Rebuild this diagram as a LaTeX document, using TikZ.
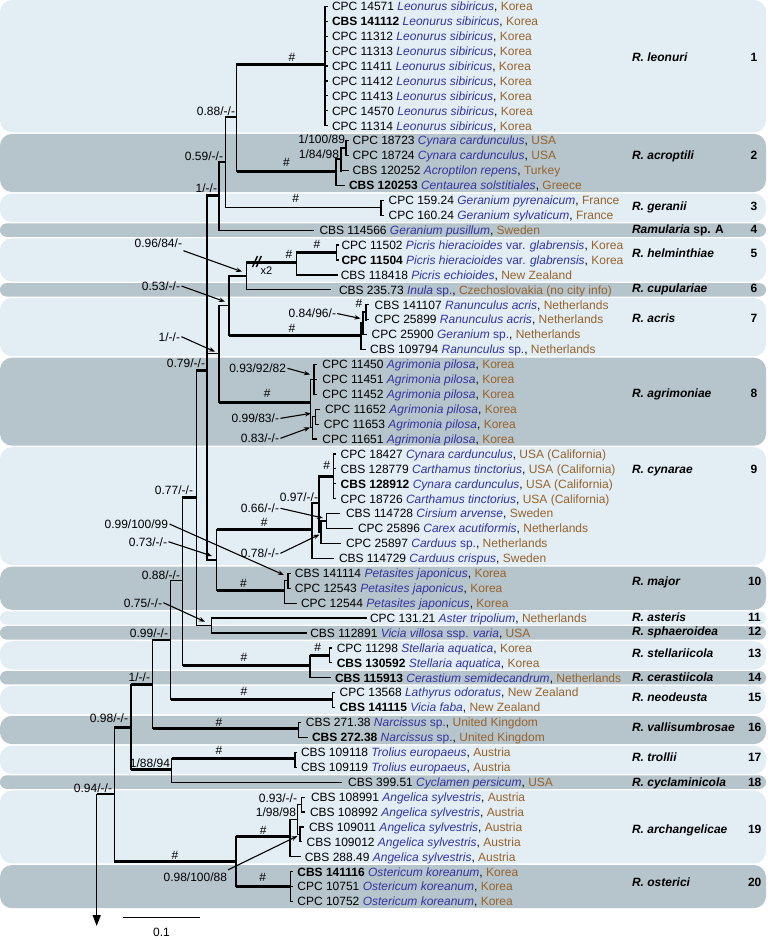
\documentclass[tikz,border=0pt]{standalone}
\usepackage{fontspec}
\setmainfont{Liberation Sans}
\usetikzlibrary{arrows.meta}
\definecolor{spblue}{RGB}{52,52,160}
\definecolor{cobrown}{RGB}{150,100,45}
\definecolor{bandL}{RGB}{226,237,244}
\definecolor{bandD}{RGB}{182,196,203}
\newcommand\spx[1]{\textcolor{spblue}{#1}}
\newcommand\ctx[1]{\textcolor{cobrown}{#1}}
\newcommand\mkleaf[5]{\coordinate (t#1) at (#3,#2); \node[leaf] (l#1) at (#4,#2) {#5};}
\newcommand\hbr[3][thinbr]{\draw[#1] (#2 |- #3) -- (#3);}
\newcommand\vbr[4][vbr]{\draw[#1] (#2 |- #3) -- (#2 |- #4);}
\begin{document}
\begin{tikzpicture}[x=1pt,y=-1pt,
  every node/.style={font=\fontsize{12pt}{14pt}\selectfont, inner sep=0pt, outer sep=0pt},
  thinbr/.style={line width=1.2pt},
  thickbr/.style={line width=3pt},
  vbr/.style={line width=1.2pt, line cap=rect},
  vthick/.style={line width=2.4pt, line cap=rect},
  leaf/.style={anchor=base west, yshift=-4.3pt},
  supp/.style={anchor=base east, yshift=-4.3pt},
  hashl/.style={anchor=base, yshift=-4.3pt},
  clade/.style={anchor=base west, yshift=-4.3pt, font=\fontsize{12pt}{14pt}\selectfont\bfseries\itshape},
  cnum/.style={anchor=base west, yshift=-4.3pt, font=\fontsize{12pt}{14pt}\selectfont\bfseries},
  arr/.style={line width=1.1pt, -{Stealth[length=6pt,width=4.5pt]}},
]
\useasboundingbox (0,0) rectangle (773,940);
% ---------- bands
\fill[bandL,rounded corners=12pt] (0,0) rectangle (766,132.4);
\fill[bandD,rounded corners=12pt] (0,133.9) rectangle (766,192.0);
\fill[bandL,rounded corners=12pt] (0,193.6) rectangle (766,221.9);
\fill[bandD,rounded corners=6.5pt] (0,223.4) rectangle (766,236.8);
\fill[bandL,rounded corners=12pt] (0,238.3) rectangle (766,281.6);
\fill[bandD,rounded corners=6.5pt] (0,283.1) rectangle (766,296.5);
\fill[bandL,rounded corners=12pt] (0,298.0) rectangle (766,356.2);
\fill[bandD,rounded corners=12pt] (0,357.7) rectangle (766,445.7);
\fill[bandL,rounded corners=12pt] (0,447.2) rectangle (766,565.0);
\fill[bandD,rounded corners=12pt] (0,566.6) rectangle (766,609.8);
\fill[bandL,rounded corners=6.5pt] (0,611.3) rectangle (766,624.7);
\fill[bandD,rounded corners=6.5pt] (0,626.2) rectangle (766,639.6);
\fill[bandL,rounded corners=12pt] (0,641.2) rectangle (766,669.5);
\fill[bandD,rounded corners=6.5pt] (0,671.0) rectangle (766,684.4);
\fill[bandL,rounded corners=12pt] (0,685.9) rectangle (766,714.2);
\fill[bandD,rounded corners=12pt] (0,715.8) rectangle (766,744.1);
\fill[bandL,rounded corners=12pt] (0,745.6) rectangle (766,773.9);
\fill[bandD,rounded corners=6.5pt] (0,775.4) rectangle (766,788.8);
\fill[bandL,rounded corners=12pt] (0,790.4) rectangle (766,863.4);
\fill[bandD,rounded corners=12pt] (0,865.0) rectangle (766,908.2);
% ---------- leaves
\mkleaf{0}{6.3}{327.5}{332}{CPC 14571 \spx{\textit{Leonurus sibiricus}}, \ctx{Korea}}
\mkleaf{1}{21.2}{327.5}{332}{\textbf{CBS 141112} \spx{\textit{Leonurus sibiricus}}, \ctx{Korea}}
\mkleaf{2}{36.1}{327.5}{332}{CPC 11312 \spx{\textit{Leonurus sibiricus}}, \ctx{Korea}}
\mkleaf{3}{51.1}{327.5}{332}{CPC 11313 \spx{\textit{Leonurus sibiricus}}, \ctx{Korea}}
\mkleaf{4}{66.0}{327.5}{332}{CPC 11411 \spx{\textit{Leonurus sibiricus}}, \ctx{Korea}}
\mkleaf{5}{80.9}{327.5}{332}{CPC 11412 \spx{\textit{Leonurus sibiricus}}, \ctx{Korea}}
\mkleaf{6}{95.8}{327.5}{332}{CPC 11413 \spx{\textit{Leonurus sibiricus}}, \ctx{Korea}}
\mkleaf{7}{110.7}{327.5}{332}{CPC 14570 \spx{\textit{Leonurus sibiricus}}, \ctx{Korea}}
\mkleaf{8}{125.7}{327.5}{332}{CPC 11314 \spx{\textit{Leonurus sibiricus}}, \ctx{Korea}}
\mkleaf{9}{140.6}{348.5}{352.6}{CPC 18723 \spx{\textit{Cynara cardunculus}}, \ctx{USA}}
\mkleaf{10}{155.5}{348.5}{352.6}{CPC 18724 \spx{\textit{Cynara cardunculus}}, \ctx{USA}}
\mkleaf{11}{170.4}{348.5}{352.6}{CBS 120252 \spx{\textit{Acroptilon repens}}, \ctx{Turkey}}
\mkleaf{12}{185.3}{344.5}{349}{\textbf{CBS 120253} \spx{\textit{Centaurea solstitiales}}, \ctx{Greece}}
\mkleaf{13}{200.3}{383.5}{388.6}{CPC 159.24 \spx{\textit{Geranium pyrenaicum}}, \ctx{France}}
\mkleaf{14}{215.2}{383.5}{388.6}{CPC 160.24 \spx{\textit{Geranium sylvaticum}}, \ctx{France}}
\mkleaf{15}{230.1}{314}{319.5}{CBS 114566 \spx{\textit{Geranium pusillum}}, \ctx{Sweden}}
\mkleaf{16}{245.0}{338.8}{341.5}{CPC 11502 \spx{\textit{Picris hieracioides} var. \textit{glabrensis}}, \ctx{Korea}}
\mkleaf{17}{259.9}{338.8}{341.5}{\textbf{CPC 11504} \spx{\textit{Picris hieracioides} var. \textit{glabrensis}}, \ctx{Korea}}
\mkleaf{18}{274.9}{337.5}{340.8}{CBS 118418 \spx{\textit{Picris echioides}}, \ctx{New Zealand}}
\mkleaf{19}{289.8}{331}{339}{CBS 235.73 \spx{\textit{Inula} sp.}, \ctx{Czechoslovakia (no city info)}}
\mkleaf{20}{304.7}{369}{374.6}{CBS 141107 \spx{\textit{Ranunculus acris}}, \ctx{Netherlands}}
\mkleaf{21}{319.6}{369}{374.6}{CPC 25899 \spx{\textit{Ranunculus acris}}, \ctx{Netherlands}}
\mkleaf{22}{334.5}{367}{371.7}{CPC 25900 \spx{\textit{Geranium} sp.}, \ctx{Netherlands}}
\mkleaf{23}{349.5}{365.5}{370.2}{CBS 109794 \spx{\textit{Ranunculus} sp.}, \ctx{Netherlands}}
\mkleaf{24}{364.4}{317}{322.4}{CPC 11450 \spx{\textit{Agrimonia pilosa}}, \ctx{Korea}}
\mkleaf{25}{379.3}{317}{322.4}{CPC 11451 \spx{\textit{Agrimonia pilosa}}, \ctx{Korea}}
\mkleaf{26}{394.2}{317}{322.4}{CPC 11452 \spx{\textit{Agrimonia pilosa}}, \ctx{Korea}}
\mkleaf{27}{409.1}{319.5}{325}{CPC 11652 \spx{\textit{Agrimonia pilosa}}, \ctx{Korea}}
\mkleaf{28}{424.1}{318.5}{323.9}{CPC 11653 \spx{\textit{Agrimonia pilosa}}, \ctx{Korea}}
\mkleaf{29}{439.0}{317}{322.4}{CPC 11651 \spx{\textit{Agrimonia pilosa}}, \ctx{Korea}}
\mkleaf{30}{453.9}{335.5}{340.7}{CPC 18427 \spx{\textit{Cynara cardunculus}}, \ctx{USA (California)}}
\mkleaf{31}{468.8}{335.5}{340.7}{CBS 128779 \spx{\textit{Carthamus tinctorius}}, \ctx{USA (California)}}
\mkleaf{32}{483.7}{335.5}{340.7}{\textbf{CBS 128912} \spx{\textit{Cynara cardunculus}}, \ctx{USA (California)}}
\mkleaf{33}{498.7}{335.5}{340.7}{CPC 18726 \spx{\textit{Carthamus tinctorius}}, \ctx{USA (California)}}
\mkleaf{34}{513.6}{340}{346}{CBS 114728 \spx{\textit{Cirsium arvense}}, \ctx{Sweden}}
\mkleaf{35}{528.5}{353}{358}{CPC 25896 \spx{\textit{Carex acutiformis}}, \ctx{Netherlands}}
\mkleaf{36}{543.4}{341}{346}{CPC 25897 \spx{\textit{Carduus} sp.}, \ctx{Netherlands}}
\mkleaf{37}{558.3}{334}{339}{CBS 114729 \spx{\textit{Carduus crispus}}, \ctx{Sweden}}
\mkleaf{38}{573.3}{290.5}{294.9}{CBS 141114 \spx{\textit{Petasites japonicus}}, \ctx{Korea}}
\mkleaf{39}{588.2}{290.5}{294.9}{CPC 12543 \spx{\textit{Petasites japonicus}}, \ctx{Korea}}
\mkleaf{40}{603.1}{297}{301}{CPC 12544 \spx{\textit{Petasites japonicus}}, \ctx{Korea}}
\mkleaf{41}{618.0}{367}{370}{CPC 131.21 \spx{\textit{Aster tripolium}}, \ctx{Netherlands}}
\mkleaf{42}{632.9}{306.6}{310.3}{CBS 112891 \spx{\textit{Vicia villosa} ssp. \textit{varia}}, \ctx{USA}}
\mkleaf{43}{647.9}{331.5}{336.8}{CPC 11298 \spx{\textit{Stellaria aquatica}}, \ctx{Korea}}
\mkleaf{44}{662.8}{331.5}{336.8}{\textbf{CBS 130592} \spx{\textit{Stellaria aquatica}}, \ctx{Korea}}
\mkleaf{45}{677.7}{330.5}{335}{\textbf{CBS 115913} \spx{\textit{Cerastium semidecandrum}}, \ctx{Netherlands}}
\mkleaf{46}{692.6}{334.5}{339.7}{CPC 13568 \spx{\textit{Lathyrus odoratus}}, \ctx{New Zealand}}
\mkleaf{47}{707.5}{334.5}{339.7}{\textbf{CBS 141115} \spx{\textit{Vicia faba}}, \ctx{New Zealand}}
\mkleaf{48}{722.5}{300.5}{305.9}{CBS 271.38 \spx{\textit{Narcissus} sp.}, \ctx{United Kingdom}}
\mkleaf{49}{737.4}{308}{312}{\textbf{CBS 272.38} \spx{\textit{Narcissus} sp.}, \ctx{United Kingdom}}
\mkleaf{50}{752.3}{297}{301}{CBS 109118 \spx{\textit{Trolius europaeus}}, \ctx{Austria}}
\mkleaf{51}{767.2}{297}{301}{CBS 109119 \spx{\textit{Trolius europaeus}}, \ctx{Austria}}
\mkleaf{52}{782.1}{341.5}{348.2}{CBS 399.51 \spx{\textit{Cyclamen persicum}}, \ctx{USA}}
\mkleaf{53}{797.1}{305}{311}{CBS 108991 \spx{\textit{Angelica sylvestris}}, \ctx{Austria}}
\mkleaf{54}{812.0}{305}{310}{CBS 108992 \spx{\textit{Angelica sylvestris}}, \ctx{Austria}}
\mkleaf{55}{826.9}{303.5}{309}{CBS 109011 \spx{\textit{Angelica sylvestris}}, \ctx{Austria}}
\mkleaf{56}{841.8}{302}{306.6}{CBS 109012 \spx{\textit{Angelica sylvestris}}, \ctx{Austria}}
\mkleaf{57}{856.7}{301}{304.8}{CBS 288.49 \spx{\textit{Angelica sylvestris}}, \ctx{Austria}}
\mkleaf{58}{871.7}{293}{297.4}{\textbf{CBS 141116} \spx{\textit{Ostericum koreanum}}, \ctx{Korea}}
\mkleaf{59}{886.6}{293}{297.4}{CPC 10751 \spx{\textit{Ostericum koreanum}}, \ctx{Korea}}
\mkleaf{60}{901.5}{293}{297.4}{CPC 10752 \spx{\textit{Ostericum koreanum}}, \ctx{Korea}}
% ---------- internal nodes
\coordinate (nLeo) at (325,64);
\coordinate (nA1) at (346,148);
\coordinate (nA2) at (341,159);
\coordinate (nAcr) at (336,171);
\coordinate (n088a) at (236.7,117);
\coordinate (nGer) at (381,207.7);
\coordinate (n059) at (225.7,162);
\coordinate (n1a) at (219,195);
\coordinate (nHel2) at (336.8,252.5);
\coordinate (nHel) at (296.3,262);
\coordinate (n096) at (246.7,276);
\coordinate (nAcr4) at (366,312);
\coordinate (n084) at (363,323);
\coordinate (nAcris) at (361,335);
\coordinate (n053) at (229,305.5);
\coordinate (nAg1) at (314,379.3);
\coordinate (nAg99) at (315.5,416.6);
\coordinate (nAg83) at (312.5,427.8);
\coordinate (nAgr) at (310.5,402);
\coordinate (n1b) at (219,353.5);
\coordinate (nCy4) at (333.3,476);
\coordinate (nR066) at (326.8,521);
\coordinate (nQ078) at (321,532.2);
\coordinate (nP097) at (319,503);
\coordinate (nCyn) at (312,529.5);
\coordinate (nMaj2) at (288,580.8);
\coordinate (nMaj) at (284.6,590);
\coordinate (n073) at (216.7,560);
\coordinate (n079) at (207,370);
\coordinate (n075) at (211.7,625.5);
\coordinate (n077) at (196.7,497);
\coordinate (nStel2) at (329.4,655.4);
\coordinate (nStel) at (310,665.5);
\coordinate (n088b) at (182.7,580.5);
\coordinate (nNeo) at (332.4,699);
\coordinate (n099) at (170.7,640);
\coordinate (nVal) at (298.5,728);
\coordinate (n1c) at (152.7,684.5);
\coordinate (nTro) at (294.9,758.5);
\coordinate (n188) at (171.7,769);
\coordinate (n098a) at (131,727.5);
\coordinate (nAr093) at (301.5,804.5);
\coordinate (nAr1112) at (300,834.3);
\coordinate (nAr198) at (297.4,819.4);
\coordinate (nArch) at (290,836.5);
\coordinate (nOst) at (290.8,886);
\coordinate (n098b) at (236,861);
\coordinate (n094) at (114.3,794);
\coordinate (root) at (96.7,794);
\coordinate (rootTip) at (96.7,926);
% ---------- branches
\vbr{nLeo}{t0}{t8} \foreach \i in {0,...,8}{\hbr{nLeo}{t\i}}
\vbr{nA1}{t9}{t10} \hbr{nA1}{t9} \hbr{nA1}{t10}
\vbr[vthick]{nA2}{nA1}{t11} \hbr{nA2}{nA1} \hbr{nA2}{t11}
\vbr{nAcr}{nA2}{t12} \draw[vthick] (nAcr |- nA2) -- (nAcr); \hbr{nAcr}{nA2} \hbr{nAcr}{t12}
\vbr{n088a}{nLeo}{nAcr} \hbr[thickbr]{n088a}{nLeo} \hbr[thickbr]{n088a}{nAcr}
\vbr{nGer}{t13}{t14} \hbr{nGer}{t13} \hbr{nGer}{t14}
\vbr{n059}{n088a}{nGer} \hbr{n059}{n088a} \hbr{n059}{nGer}
\vbr{n1a}{n059}{t15} \hbr{n1a}{n059} \hbr{n1a}{t15}
\vbr{nHel2}{t16}{t17} \hbr{nHel2}{t16} \hbr{nHel2}{t17}
\vbr{nHel}{nHel2}{t18} \hbr[thickbr]{nHel}{nHel2} \hbr{nHel}{t18}
\vbr{n096}{nHel}{t19} \hbr[thickbr]{n096}{nHel} \hbr{n096}{t19}
\vbr[vthick]{nAcr4}{t20}{t21} \hbr{nAcr4}{t20} \hbr{nAcr4}{t21}
\vbr{n084}{nAcr4}{t22} \hbr{n084}{nAcr4} \hbr{n084}{t22}
\vbr{nAcris}{n084}{t23} \hbr{nAcris}{n084} \hbr{nAcris}{t23}
\vbr{n053}{n096}{nAcris} \hbr{n053}{n096} \hbr[thickbr]{n053}{nAcris}
\vbr{nAg1}{t24}{t26} \foreach \i in {24,25,26}{\hbr{nAg1}{t\i}}
\vbr{nAg99}{t27}{t28} \hbr{nAg99}{t27} \hbr{nAg99}{t28}
\vbr{nAg83}{nAg99}{t29} \hbr{nAg83}{nAg99} \hbr{nAg83}{t29}
\vbr{nAgr}{nAg1}{nAg83} \hbr{nAgr}{nAg1} \hbr{nAgr}{nAg83}
\vbr{n1b}{n053}{nAgr} \hbr{n1b}{n053} \hbr[thickbr]{n1b}{nAgr}
\vbr{nCy4}{t30}{t33} \foreach \i in {30,...,33}{\hbr{nCy4}{t\i}}
\vbr{nR066}{t34}{t35} \hbr{nR066}{t34} \hbr{nR066}{t35}
\vbr{nQ078}{nR066}{t36} \hbr{nQ078}{nR066} \hbr{nQ078}{t36}
\vbr[vthick]{nP097}{nCy4}{nQ078} \hbr[thickbr]{nP097}{nCy4} \hbr{nP097}{nQ078}
\vbr{nCyn}{nP097}{t37} \hbr{nCyn}{nP097} \hbr{nCyn}{t37}
\vbr{nMaj2}{t38}{t39} \hbr{nMaj2}{t38} \hbr{nMaj2}{t39}
\vbr{nMaj}{nMaj2}{t40} \hbr{nMaj}{nMaj2} \hbr{nMaj}{t40}
\vbr{n073}{nCyn}{nMaj} \hbr[thickbr]{n073}{nCyn} \hbr[thickbr]{n073}{nMaj}
\vbr{n079}{n1a}{n073} \hbr[thickbr]{n079}{n1a} \hbr{n079}{n1b} \hbr{n079}{n073}
\vbr{n075}{t41}{t42} \hbr{n075}{t41} \hbr{n075}{t42}
\vbr{n077}{n079}{n075} \hbr[thickbr]{n077}{n079} \hbr{n077}{n075}
\vbr{nStel2}{t43}{t44} \hbr{nStel2}{t43} \hbr{nStel2}{t44}
\vbr{nStel}{nStel2}{t45} \hbr[thickbr]{nStel}{nStel2} \hbr{nStel}{t45}
\vbr{n088b}{n077}{nStel} \hbr[thickbr]{n088b}{n077} \hbr[thickbr]{n088b}{nStel}
\vbr{nNeo}{t46}{t47} \hbr{nNeo}{t46} \hbr{nNeo}{t47}
\vbr{n099}{n088b}{nNeo} \hbr{n099}{n088b} \hbr[thickbr]{n099}{nNeo}
\vbr{nVal}{t48}{t49} \hbr{nVal}{t48} \hbr{nVal}{t49}
\vbr{n1c}{n099}{nVal} \hbr{n1c}{n099} \hbr[thickbr]{n1c}{nVal}
\vbr{nTro}{t50}{t51} \hbr{nTro}{t50} \hbr{nTro}{t51}
\vbr{n188}{nTro}{t52} \hbr[thickbr]{n188}{nTro} \hbr{n188}{t52}
\vbr{n098a}{n1c}{n188} \hbr[thickbr]{n098a}{n1c} \hbr[thickbr]{n098a}{n188}
\vbr{nAr093}{t53}{t54} \hbr{nAr093}{t53} \hbr{nAr093}{t54}
\vbr{nAr1112}{t55}{t56} \hbr{nAr1112}{t55} \hbr{nAr1112}{t56}
\vbr{nAr198}{nAr093}{nAr1112} \hbr{nAr198}{nAr093} \hbr{nAr198}{nAr1112}
\vbr{nArch}{nAr198}{t57} \hbr{nArch}{nAr198} \hbr{nArch}{t57}
\vbr{nOst}{t58}{t60} \foreach \i in {58,59,60}{\hbr{nOst}{t\i}}
\vbr{n098b}{nArch}{nOst} \hbr[thickbr]{n098b}{nArch} \hbr[thickbr]{n098b}{nOst}
\vbr{n094}{n098a}{n098b} \hbr[thickbr]{n094}{n098a} \hbr[thickbr]{n094}{n098b}
\draw[thinbr] (root) -- (n094);
\draw[line width=1.5pt, -{Triangle[length=11pt,width=8pt]}] (root) -- (rootTip);
% break marks on helminthiae stem
\draw[line width=1.4pt] (252.5,267) -- (257.5,256);
\draw[line width=1.4pt] (256.3,267) -- (261.3,256);
\node[hashl, font=\fontsize{11pt}{13pt}\selectfont] (x2) at (266.5,270) {x2};
% ---------- hash labels
\node[hashl] (h1) at (292,57) {\#};
\node[hashl] (h2) at (286.4,162.3) {\#};
\node[hashl] (h3) at (295.6,198) {\#};
\node[hashl] (h4) at (317,244.3) {\#};
\node[hashl] (h5) at (289,254.5) {\#};
\node[hashl] (h6) at (292,328.3) {\#};
\node[hashl] (h7) at (359,303) {\#};
\node[hashl] (h8) at (267.3,393.3) {\#};
\node[hashl] (h9) at (326.7,465) {\#};
\node[hashl] (h10) at (264.3,522.3) {\#};
\node[hashl] (h11) at (243.4,583.3) {\#};
\node[hashl] (h12) at (244,657) {\#};
\node[hashl] (h13) at (317.6,646.7) {\#};
\node[hashl] (h14) at (244,690.7) {\#};
\node[hashl] (h15) at (219,721.7) {\#};
\node[hashl] (h16) at (219,750) {\#};
\node[hashl] (h17) at (263.3,830) {\#};
\node[hashl] (h18) at (262.8,877.5) {\#};
\node[hashl] (h19) at (175,855) {\#};
% ---------- support labels
\node[supp] (s1) at (235,110.7) {0.88/-/-};
\node[supp] (s2) at (223,155.7) {0.59/-/-};
\node[supp] (s3) at (217,188) {1/-/-};
\node[supp] (s4) at (345,139.3) {1/100/89};
\node[supp] (s5) at (339,154) {1/84/98};
\node[supp] (s6) at (205,363) {0.79/-/-};
\node[supp] (s7) at (193,490) {0.77/-/-};
\node[supp] (s8) at (318,496.7) {0.97/-/-};
\node[supp] (s9) at (180,575) {0.88/-/-};
\node[supp] (s10) at (168,632.7) {0.99/-/-};
\node[supp] (s11) at (150,676.7) {1/-/-};
\node[supp] (s12) at (128,718) {0.98/-/-};
\node[supp] (s13) at (170,762.7) {1/88/94};
\node[supp] (s14) at (112,788.3) {0.94/-/-};
\node[supp] (s15) at (297,797.7) {0.93/-/-};
\node[supp] (s16) at (296,811.7) {1/98/98};
% ---------- arrow labels
\node[supp] (a1) at (182,243.3) {0.96/84/-};
\node[supp] (a2) at (180,286) {0.53/-/-};
\node[supp] (a3) at (180,336.7) {1/-/-};
\node[supp] (a4) at (336,313.5) {0.84/96/-};
\node[supp] (a5) at (286,368.3) {0.93/92/82};
\node[supp] (a6) at (279,418.3) {0.99/83/-};
\node[supp] (a7) at (279,438.3) {0.83/-/-};
\node[supp] (a8) at (279,508.3) {0.66/-/-};
\node[supp] (a9) at (279,553.3) {0.78/-/-};
\node[supp] (a10) at (168,524) {0.99/100/99};
\node[supp] (a11) at (167,541.7) {0.73/-/-};
\node[supp] (a12) at (162,602.7) {0.75/-/-};
\node[supp] (a13) at (227,877.3) {0.98/100/88};
\coordinate (x1) at (242,271.7);
\coordinate (x2t) at (225,301.7);
\coordinate (x3) at (215,351.7);
\coordinate (x4) at (360.5,318.5);
\coordinate (x5) at (310,374.5);
\coordinate (x6) at (311,413.3);
\coordinate (x7) at (310,427.5);
\coordinate (x8) at (323,518);
\coordinate (x9) at (319.5,534.5);
\coordinate (x10) at (284,575);
\coordinate (x11) at (212,556);
\coordinate (x12) at (205,621.7);
\coordinate (x13) at (297.5,836);
\draw[arr] ([xshift=1.5pt,yshift=-3pt]a1.south east) -- (x1);
\draw[arr] ([xshift=1.5pt]a2.east) -- (x2t);
\draw[arr] ([xshift=1.5pt]a3.east) -- (x3);
\draw[arr] ([xshift=1pt]a4.east) -- (x4);
\draw[arr] ([xshift=1.5pt]a5.east) -- (x5);
\draw[arr] ([xshift=1.5pt]a6.east) -- (x6);
\draw[arr] ([xshift=1.5pt]a7.east) -- (x7);
\draw[arr] ([xshift=1.5pt]a8.east) -- (x8);
\draw[arr] ([xshift=1.5pt]a9.east) -- (x9);
\draw[arr] ([xshift=1.5pt]a10.east) -- (x10);
\draw[arr] ([xshift=1.5pt]a11.east) -- (x11);
\draw[arr] ([xshift=1.5pt]a12.east) -- (x12);
\draw[arr] ([xshift=1pt,yshift=3pt]a13.north east) -- (x13);
% ---------- clade names and numbers
\node[clade] (c1) at (632,57) {R. leonuri};
\node[clade] (c2) at (632,155) {R. acroptili};
\node[clade] (c3) at (632,205.7) {R. geranii};
\node[clade] (c4) at (632,229) {Ramularia \upshape sp. A};
\node[clade] (c5) at (632,253.3) {R. helminthiae};
\node[clade] (c6) at (632,288.3) {R. cupulariae};
\node[clade] (c7) at (632,318.3) {R. acris};
\node[clade] (c8) at (632,393.3) {R. agrimoniae};
\node[clade] (c9) at (632,469) {R. cynarae};
\node[clade] (c10) at (632,580.7) {R. major};
\node[clade] (c11) at (632,616.7) {R. asteris};
\node[clade] (c12) at (632,631) {R. sphaeroidea};
\node[clade] (c13) at (632,653.3) {R. stellariicola};
\node[clade] (c14) at (632,677.3) {R. cerastiicola};
\node[clade] (c15) at (632,697.3) {R. neodeusta};
\node[clade] (c16) at (632,726.7) {R. vallisumbrosae};
\node[clade] (c17) at (632,756.7) {R. trollii};
\node[clade] (c18) at (632,781.7) {R. cyclaminicola};
\node[clade] (c19) at (632,829) {R. archangelicae};
\node[clade] (c20) at (632,882.3) {R. osterici};
\node[cnum] (k1) at (750.5,57) {1};
\node[cnum] (k2) at (750.5,155) {2};
\node[cnum] (k3) at (750.5,205.7) {3};
\node[cnum] (k4) at (750.5,229) {4};
\node[cnum] (k5) at (750.5,253.3) {5};
\node[cnum] (k6) at (750.5,288.3) {6};
\node[cnum] (k7) at (750.5,318.3) {7};
\node[cnum] (k8) at (750.5,393.3) {8};
\node[cnum] (k9) at (750.5,469) {9};
\node[cnum] (k10) at (748,580.7) {10};
\node[cnum] (k11) at (748,616.7) {11};
\node[cnum] (k12) at (748,631) {12};
\node[cnum] (k13) at (748,653.3) {13};
\node[cnum] (k14) at (748,677.3) {14};
\node[cnum] (k15) at (748,697.3) {15};
\node[cnum] (k16) at (748,726.7) {16};
\node[cnum] (k17) at (748,756.7) {17};
\node[cnum] (k18) at (748,781.7) {18};
\node[cnum] (k19) at (748,829) {19};
\node[cnum] (k20) at (748,882.3) {20};
% ---------- scale bar
\coordinate (sbA) at (123,917.5);
\coordinate (sbB) at (200,917.5);
\draw[line width=1.2pt] (sbA) -- (sbB);
\node[hashl] (sbl) at (161.5,931.7) {0.1};
\end{tikzpicture}
\end{document}
